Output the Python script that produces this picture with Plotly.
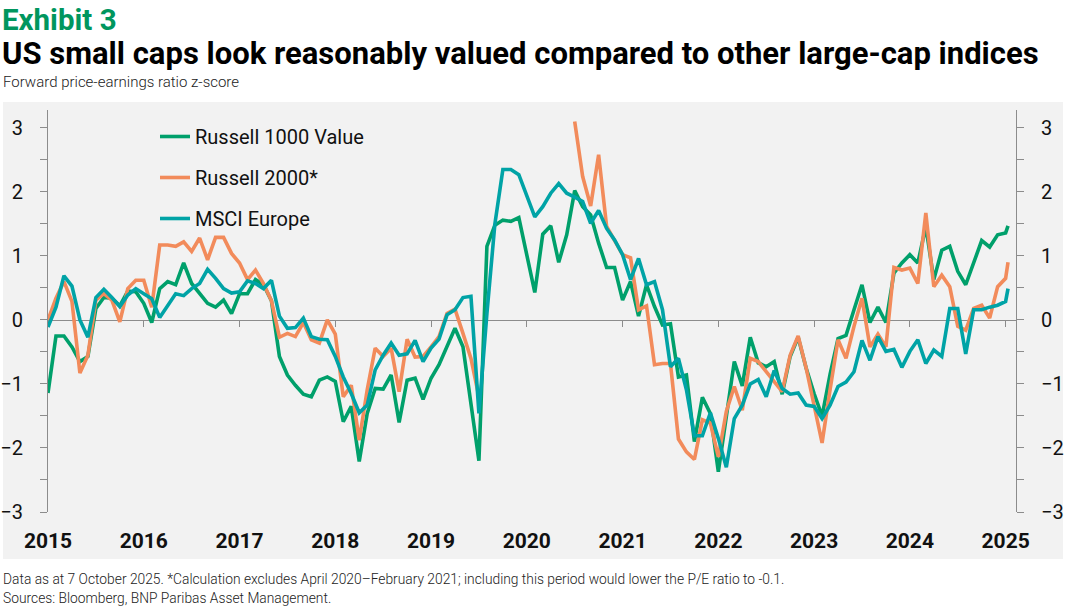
import plotly.graph_objects as go

# ---------------- data ----------------
# month index (0 = first observation, 12 months per labelled year), last point = 7 Oct 2025
months = list(range(121)) + [120.3]

year_ticks = [0, 12, 24, 36, 48, 60, 72, 84, 96, 108, 120]
year_labels = ["2015", "2016", "2017", "2018", "2019", "2020", "2021", "2022", "2023", "2024", "2025"]

russell_1000_value = [
    -1.14, -0.25, -0.25, -0.42, -0.65, -0.57, 0.18, 0.35, 0.34, 0.22,
    0.45, 0.44, 0.26, -0.04, 0.49, 0.60, 0.55, 0.89, 0.57, 0.42,
    0.26, 0.20, 0.31, 0.10, 0.41, 0.41, 0.63, 0.55, 0.30, -0.57,
    -0.86, -1.02, -1.16, -1.20, -0.94, -0.89, -0.96, -1.59, -1.35, -2.21,
    -1.46, -1.07, -1.08, -0.86, -1.60, -0.94, -0.91, -1.24, -0.91, -0.70,
    -0.43, -0.13, -0.42, -1.35, -2.20, 1.15, 1.48, 1.56, 1.54, 1.60,
    1.04, 0.43, 1.34, 1.47, 0.90, 1.33, 2.02, 1.77, 1.64, 1.20,
    0.82, 0.82, 0.31, 0.60, 0.06, 0.55, 0.21, -0.08, -0.06, -0.89,
    -0.86, -1.90, -1.21, -1.46, -2.37, -1.51, -0.65, -1.03, -0.27, -0.67,
    -0.73, -0.65, -1.16, -0.57, -0.27, -0.75, -1.15, -1.50, -0.85, -0.29,
    -0.24, 0.16, 0.55, -0.04, 0.20, -0.04, 0.73, 0.89, 1.02, 0.89,
    1.46, 0.63, 1.09, 1.15, 0.76, 0.55, 0.90, 1.24, 1.14, 1.33,
    1.36, 1.47,
]

russell_2000 = [
    0.00, 0.34, 0.60, 0.29, -0.83, -0.55, 0.31, 0.41, 0.31, -0.03,
    0.49, 0.62, 0.62, 0.20, 1.17, 1.17, 1.15, 1.22, 1.07, 1.28,
    0.94, 1.29, 1.29, 1.04, 0.89, 0.63, 0.78, 0.57, 0.30, -0.27,
    -0.21, -0.26, -0.04, -0.31, -0.36, 0.00, -0.22, -1.20, -1.02, -1.88,
    -1.09, -0.44, -0.57, -0.44, -1.12, -0.30, -0.58, -0.57, -0.42, -0.26,
    0.10, 0.17, -0.21, -0.60, -1.20, None, None, None, None, None,
    None, None, None, None, None, None, 3.10, 2.24, 1.78, 2.58,
    1.46, 1.25, 1.02, 0.97, 0.16, 0.22, -0.70, -0.68, -0.68, -1.86,
    -2.06, -2.18, -1.56, -1.61, -2.14, -1.43, -1.04, -1.41, -0.60, -0.65,
    -0.81, -0.96, -1.12, -0.55, -0.25, -0.75, -1.32, -1.92, -1.09, -0.31,
    -0.60, -0.10, 0.34, -0.42, -0.22, -0.42, 0.82, 0.78, 0.81, 0.57,
    1.67, 0.52, 0.70, 0.52, -0.10, -0.16, 0.18, 0.23, 0.03, 0.52,
    0.65, 0.90,
]

msci_europe = [
    -0.11, 0.20, 0.69, 0.53, 0.00, -0.27, 0.35, 0.48, 0.35, 0.21,
    0.39, 0.49, 0.41, 0.33, 0.04, 0.22, 0.41, 0.38, 0.49, 0.57,
    0.79, 0.65, 0.49, 0.42, 0.44, 0.61, 0.57, 0.49, 0.62, 0.06,
    -0.13, -0.12, 0.03, -0.26, -0.30, -0.31, -0.57, -0.89, -1.15, -1.45,
    -1.33, -0.78, -0.55, -0.36, -0.55, -0.53, -0.32, -0.65, -0.44, -0.30,
    0.08, 0.16, 0.35, 0.37, -1.46, 0.10, 1.50, 2.35, 2.35, 2.27,
    1.94, 1.61, 1.77, 1.98, 2.13, 1.98, 1.92, 1.85, 1.51, 1.71,
    1.43, 1.25, 1.02, 0.63, 0.96, 0.55, 0.60, 0.16, -0.73, -0.60,
    -1.09, -1.81, -1.81, -1.45, -1.85, -2.30, -1.54, -1.33, -1.00, -0.93,
    -1.20, -0.79, -1.07, -1.16, -1.14, -1.33, -1.35, -1.54, -1.33, -1.04,
    -0.97, -0.81, -0.32, -0.63, -0.26, -0.49, -0.46, -0.74, -0.49, -0.31,
    -0.68, -0.47, -0.57, 0.18, 0.18, -0.53, 0.16, 0.16, 0.20, 0.23,
    0.29, 0.49,
]

y_ticks = [-3, -2, -1, 0, 1, 2, 3]

# ---------------- styling ----------------
GREEN = "#00A06B"
ORANGE = "#F28B5B"
TEAL = "#00A3A6"
TITLE_GREEN = "#00965E"
AXIS_GREY = "#8C8C8C"
BG = "#F2F2F2"
FONT = "Roboto"

W, H = 1066, 607
L, R, T, B = 48, 1016, 110, 512  # plot area in pixels
Y_RANGE = [-3, 3.28]
X_RANGE = [0, 121.3]


def px_x(px):
    return (px - L) / (R - L)


def px_y(py):
    return (B - py) / (B - T)


fig = go.Figure()

series = [
    ("Russell 1000 Value", russell_1000_value, GREEN),
    ("Russell 2000*", russell_2000, ORANGE),
    ("MSCI Europe", msci_europe, TEAL),
]
for name, vals, col in series:
    fig.add_trace(go.Scatter(
        x=months, y=vals, name=name, mode="lines",
        line=dict(color=col, width=3.6), connectgaps=False,
        legendgroup=name,
    ))

# helper traces to carry the right-hand axis and the zero-line axis
fig.add_trace(go.Scatter(x=months, y=msci_europe, yaxis="y2", mode="lines",
                         line=dict(width=0), showlegend=False, hoverinfo="skip"))
fig.add_trace(go.Scatter(x=months, y=msci_europe, xaxis="x2", mode="lines",
                         line=dict(width=0), showlegend=False, hoverinfo="skip"))

zero_pos = (0 - Y_RANGE[0]) / (Y_RANGE[1] - Y_RANGE[0])

ytick_common = dict(
    range=Y_RANGE, tickvals=y_ticks, showgrid=False, zeroline=False,
    showline=True, linecolor=AXIS_GREY, linewidth=1.2,
    ticks="outside", ticklen=7, tickcolor=AXIS_GREY, tickwidth=1.2,
    minor=dict(dtick=0.5, tick0=0, ticks="outside", ticklen=7,
               tickcolor=AXIS_GREY, tickwidth=1.2),
    tickfont=dict(size=20, family=FONT, color="#111111"),
    ticklabelstandoff=13, automargin=False,
)

fig.update_layout(
    width=W, height=H,
    margin=dict(l=L, r=W - R, t=T, b=H - B, pad=0, autoexpand=False),
    paper_bgcolor="white",
    plot_bgcolor=BG,
    font=dict(family=FONT, color="#111111"),
    showlegend=True,
    legend=dict(
        x=px_x(155), y=px_y(117), xanchor="left", yanchor="top",
        bgcolor="rgba(0,0,0,0)", font=dict(size=20, family=FONT, color="#111111"),
        tracegroupgap=12, itemwidth=30,
    ),
    xaxis=dict(
        range=X_RANGE, tickvals=year_ticks, ticktext=year_labels,
        showgrid=False, zeroline=False, showline=False, ticks="",
        tickfont=dict(size=21, family=FONT, weight="bold", color="#111111"),
        ticklabelstandoff=14, automargin=False,
    ),
    xaxis2=dict(
        range=X_RANGE, overlaying="x", anchor="free", position=zero_pos,
        tickvals=year_ticks, showticklabels=False, showgrid=False, zeroline=False,
        showline=True, linecolor=AXIS_GREY, linewidth=1.2,
        ticks="outside", ticklen=6, tickcolor=AXIS_GREY, tickwidth=1.2,
        layer="below traces", automargin=False,
    ),
    yaxis=ytick_common,
    yaxis2=dict(overlaying="y", side="right", **ytick_common),
    shapes=[dict(
        type="rect", xref="paper", yref="paper", layer="below",
        x0=px_x(3), x1=px_x(1063), y0=px_y(559), y1=px_y(102),
        fillcolor=BG, line=dict(width=0),
    )],
)

annotations = [
    dict(text="<b>Exhibit 3</b>", x=px_x(0), y=px_y(1), font=dict(size=29.5, color=TITLE_GREEN, family=FONT)),
    dict(text="<b>US small caps look reasonably valued compared to other large-cap indices</b>",
         x=px_x(0), y=px_y(33), font=dict(size=31, color="#000000", family=FONT)),
    dict(text="Forward price-earnings ratio z-score", x=px_x(1), y=px_y(71),
         font=dict(size=15, color="#222222", family=FONT, weight=300)),
    dict(text="Data as at 7 October 2025. *Calculation excludes April 2020\u2013February 2021; including this period would lower the P/E ratio to -0.1.",
         x=px_x(1), y=px_y(569), font=dict(size=13.8, color="#222222", family=FONT, weight=300)),
    dict(text="Sources: Bloomberg, BNP Paribas Asset Management.",
         x=px_x(1), y=px_y(588), font=dict(size=13.8, color="#222222", family=FONT, weight=300)),
]
for a in annotations:
    fig.add_annotation(xref="paper", yref="paper", xanchor="left", yanchor="top",
                       showarrow=False, align="left", **a)

# remove the browser's default page margin so the figure sits at the window origin
fig.write_html(
    "out.html",
    config={"displayModeBar": False},
    post_script="document.body.style.margin='0';document.body.style.overflow='hidden';",
)
